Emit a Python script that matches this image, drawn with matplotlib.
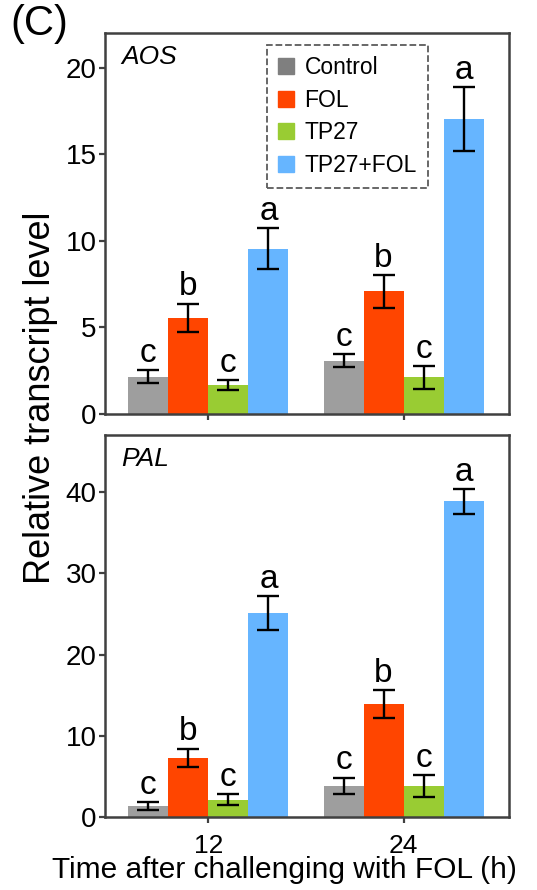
import numpy as np
import matplotlib
matplotlib.use("Agg")
import matplotlib.pyplot as plt
from matplotlib.patches import Patch

plt.rcParams['font.family'] = ['Liberation Sans', 'DejaVu Sans']

# data
times = ['12', '24']
groups = ['Control', 'FOL', 'TP27', 'TP27+FOL']
colors = ['#9e9e9e', '#ff4500', '#99cc33', '#66b5ff']
legend_colors = ['#7f7f7f', '#ff4500', '#99cc33', '#66b5ff']

aos_mean = [[2.15, 3.09], [5.55, 7.09], [1.67, 2.11], [9.55, 17.04]]
aos_err = [[0.37, 0.35], [0.82, 0.94], [0.28, 0.64], [1.2, 1.84]]
aos_letters = [['c', 'c'], ['b', 'b'], ['c', 'c'], ['a', 'a']]

pal_mean = [[1.36, 3.86], [7.3, 13.9], [2.14, 3.78], [25.1, 38.86]]
pal_err = [[0.45, 1.0], [1.1, 1.75], [0.67, 1.37], [2.07, 1.5]]
pal_letters = [['c', 'c'], ['b', 'b'], ['c', 'c'], ['a', 'a']]

spine_col = '#404040'
width = 0.205
x = np.arange(len(times))

fig = plt.figure(figsize=(5.37, 8.9), dpi=100)
ax1 = fig.add_axes([0.1955, 0.5348, 0.7523, 0.428])
ax2 = fig.add_axes([0.1955, 0.082, 0.7523, 0.429])


def draw(ax, means, errs, letters, ymax, yticks, gene):
    for i in range(len(groups)):
        pos = x + (i - 1.5) * width
        ax.bar(pos, means[i], width, color=colors[i], zorder=2)
        ax.errorbar(pos, means[i], yerr=errs[i], fmt='none', ecolor='black',
                    elinewidth=1.7, capsize=8, capthick=1.7, zorder=3)
        for j in range(len(times)):
            ax.annotate(letters[i][j], (pos[j], means[i][j] + errs[i][j]),
                        xytext=(0, 6), textcoords='offset points',
                        ha='center', va='baseline', fontsize=24)
    ax.set_xlim(-0.53, 1.54)
    ax.set_ylim(0, ymax)
    ax.set_yticks(yticks)
    ax.set_xticks(x)
    for s in ax.spines.values():
        s.set_color(spine_col)
        s.set_linewidth(1.8)
    ax.tick_params(axis='both', direction='out', length=4, width=1.6,
                   color=spine_col, labelsize=20, pad=2)
    ax.text(0.04, 0.92, gene, transform=ax.transAxes, style='italic',
            fontsize=19, ha='left', va='baseline')


draw(ax1, aos_mean, aos_err, aos_letters, 22, [0, 5, 10, 15, 20], 'AOS')
draw(ax2, pal_mean, pal_err, pal_letters, 47, [0, 10, 20, 30, 40], 'PAL')

ax1.set_xticklabels([])
ax2.set_xticklabels(times)
ax2.tick_params(axis='x', labelsize=19, pad=8)

handles = [Patch(color=c, label=g) for c, g in zip(legend_colors, groups)]
leg = ax1.legend(handles=handles, loc='upper left', bbox_to_anchor=(0.4, 0.97),
                 fontsize=16.5, frameon=True, fancybox=False, handlelength=0.7,
                 handleheight=0.7, handletextpad=0.45, labelspacing=0.42,
                 borderpad=0.5, borderaxespad=0)
frame = leg.get_frame()
frame.set_edgecolor('#333333')
frame.set_linestyle('--')
frame.set_linewidth(1.3)

fig.text(0.075, 0.553, 'Relative transcript level', rotation=90,
         ha='center', va='center', fontsize=26)
fig.text(0.529, 0.0225, 'Time after challenging with FOL (h)',
         ha='center', va='center', fontsize=21.5)
fig.text(0.02, 0.995, '(C)', ha='left', va='top', fontsize=30)

fig.savefig('out.png', dpi=100)
